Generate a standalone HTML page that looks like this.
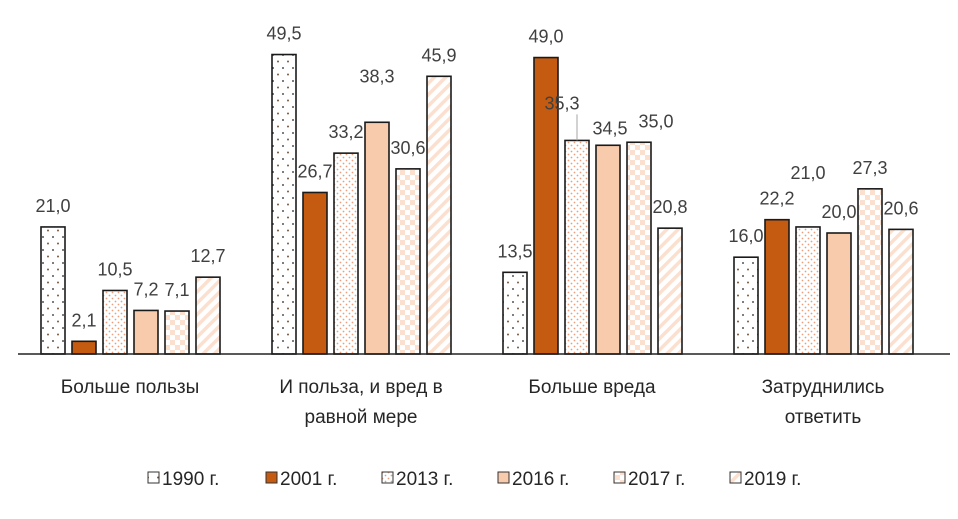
<!DOCTYPE html>
<html><head><meta charset="utf-8"><style>
body{margin:0;background:#fff;}
svg text{font-family:"Liberation Sans","DejaVu Sans",sans-serif;}
</style></head><body>
<svg id="c" width="958" height="514" viewBox="0 0 958 514">
<defs>
<pattern id="p1990" width="10" height="13" patternUnits="userSpaceOnUse"><rect width="10" height="13" fill="#fff"/><circle cx="3" cy="3" r="1" fill="#555"/><circle cx="8" cy="9.5" r="1" fill="#7a5a40"/></pattern>
<pattern id="p2013" width="6" height="6" patternUnits="userSpaceOnUse"><rect width="6" height="6" fill="#fff"/><circle cx="1.5" cy="1.5" r="0.9" fill="#e8a080"/><circle cx="4.5" cy="4.5" r="0.9" fill="#e8a080"/></pattern>
<pattern id="p2017" width="10" height="10" patternUnits="userSpaceOnUse"><rect width="10" height="10" fill="#fff"/><rect width="5" height="5" fill="#fbe0d0"/><rect x="5" y="5" width="5" height="5" fill="#fbe0d0"/></pattern>
<pattern id="p2019" width="8" height="8" patternUnits="userSpaceOnUse" patternTransform="rotate(45)"><rect width="8" height="8" fill="#fff"/><rect width="3.5" height="8" fill="#fbe0d0"/></pattern>
</defs>
</svg>
<script>
const categories = [["Больше пользы"],["И польза, и вред в","равной мере"],["Больше вреда"],["Затруднились","ответить"]];
const seriesNames = ["1990 г.","2001 г.","2013 г.","2016 г.","2017 г.","2019 г."];
const s1990 = [21.0,49.5,13.5,16.0];
const s2001 = [2.1,26.7,49.0,22.2];
const s2013 = [10.5,33.2,35.3,21.0];
const s2016 = [7.2,38.3,34.5,20.0];
const s2017 = [7.1,30.6,35.0,27.3];
const s2019 = [12.7,45.9,20.8,20.6];
const series = [s1990,s2001,s2013,s2016,s2017,s2019];
const fills = ["url(#p1990)","#C55A11","url(#p2013)","#F8CBAD","url(#p2017)","url(#p2019)"];
// label placement tweaks (layout only): key "group-series" -> [dx, extra lift]
const labelTweak = {"1-3":[0,25],"2-2":[-15,16],"2-3":[2,-4],"2-4":[17,0],"3-2":[0,33]};
const ns="http://www.w3.org/2000/svg";
const svg=document.getElementById('c');
const base=354, pxPerUnit=6.05;
const y=v=>base-v*pxPerUnit;
const groupX=i=>41+i*231;
const barX=(g,s)=>groupX(g)+s*31;
const bw=24;
function mk(t,a){const e=document.createElementNS(ns,t);for(const k in a)e.setAttribute(k,a[k]);svg.appendChild(e);return e;}
series.forEach((arr,s)=>{arr.forEach((v,g)=>{
  const r=mk('rect',{x:barX(g,s),y:y(v),width:bw,height:v*pxPerUnit,fill:fills[s],stroke:'#1a1a1a','stroke-width':1.6});
  
  
  const tw=labelTweak[g+'-'+s]||[0,0];
  const cx=barX(g,s)+bw/2;
  const t=mk('text',{x:cx+tw[0],y:y(v)-15-tw[1],'text-anchor':'middle','font-size':18,fill:'#404040'});
  t.textContent=v.toFixed(1).replace('.',',');
  
  
  if(g===2&&s===2){
    const l=mk('line',{x1:cx,x2:cx,y1:y(v)-tw[1]-10,y2:y(v),stroke:'#a6a6a6','stroke-width':1});
    
    
  }
});});
const ax=mk('line',{x1:18,x2:950,y1:base,y2:base,stroke:'#222','stroke-width':1.5});


categories.forEach((lines,g)=>{
  lines.forEach((ln,k)=>{
    const t=mk('text',{x:groupX(g)+89,y:393+k*30,'text-anchor':'middle','font-size':19,fill:'#262626'});
    t.textContent=ln;
    
    
  });
});
const lx=[148,266,382,498,614,730];
seriesNames.forEach((n,s)=>{
  const r=mk('rect',{x:lx[s],y:472,width:11,height:11,fill:fills[s],stroke:'#333','stroke-width':1});
  
  
  const t=mk('text',{x:lx[s]+14,y:485,'font-size':19,fill:'#262626'});
  t.textContent=n;
  
  
});
</script>
</body></html>
